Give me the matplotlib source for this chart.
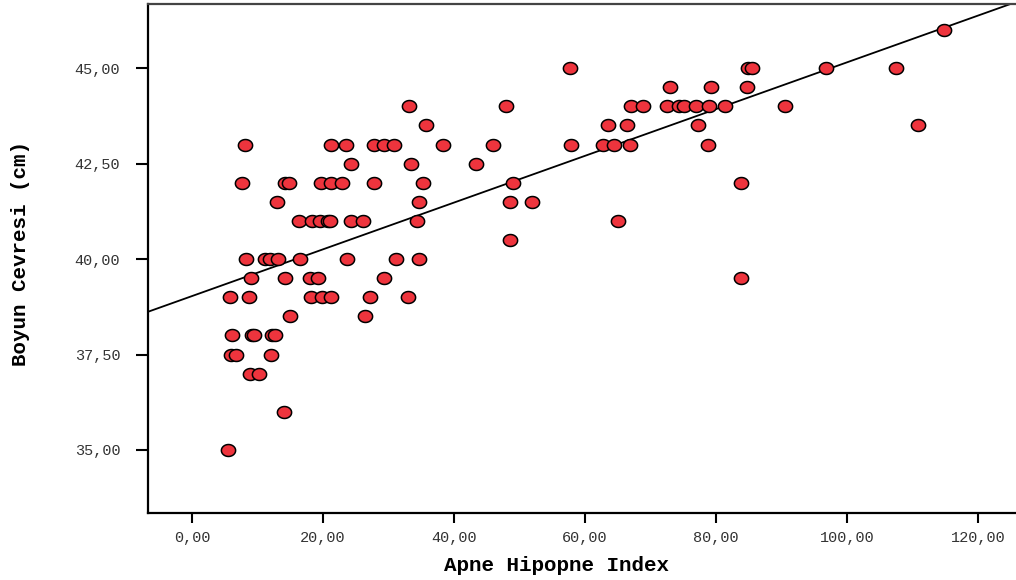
"""Scatter of neck circumference vs AHI with linear fit."""

import matplotlib
matplotlib.use('Agg')
import matplotlib.pyplot as plt
import numpy as np
from matplotlib.path import Path

# ── Data (grouped by neck circumference) ──
ahi = [
    114.8,
    57.7, 84.9, 85.5, 96.8, 107.5,
    73.0, 79.2, 84.7,
    33.1, 47.9, 67.0, 68.9, 72.5, 74.4, 75.1, 76.9, 78.9, 81.4, 90.5,
    35.7, 63.5, 66.4, 77.3, 110.8,
    8.1, 21.2, 23.5, 27.8, 29.3, 30.8, 38.3, 46.0, 57.9, 62.7, 64.4, 66.9, 78.8,
    24.3, 33.4, 43.4,
    7.6, 14.2, 14.8, 19.7, 21.2, 22.9, 27.8, 35.3, 49.0, 83.8,
    13.0, 34.7, 48.5, 51.9,
    16.3, 18.3, 19.5, 20.8, 21.1, 24.3, 26.1, 34.4, 65.0,
    48.5,
    8.2, 11.1, 11.9, 13.1, 16.5, 23.7, 31.1, 34.7,
    9.0, 14.2, 18.0, 19.2, 29.3, 83.8,
    5.8, 8.7, 18.2, 19.8, 21.2, 27.2, 33.0,
    15.0, 26.4,
    6.1, 9.2, 9.5, 12.2, 12.7,
    6.0, 6.7, 12.1,
    8.9, 10.2,
    14.0,
    5.5,
]
neck = (
    [46.0]
    + [45.0] * 5
    + [44.5] * 3
    + [44.0] * 11
    + [43.5] * 5
    + [43.0] * 13
    + [42.5] * 3
    + [42.0] * 10
    + [41.5] * 4
    + [41.0] * 9
    + [40.5] * 1
    + [40.0] * 8
    + [39.5] * 6
    + [39.0] * 7
    + [38.5] * 2
    + [38.0] * 5
    + [37.5] * 3
    + [37.0] * 2
    + [36.0] * 1
    + [35.0] * 1
)

x_ticks = [0, 20, 40, 60, 80, 100, 120]
y_ticks = [35, 37.5, 40, 42.5, 45]
x_lim = (-6.7, 125.8)
y_lim = (33.35, 46.68)

# ── Style ─────────────────────────────────────────────────────
RED = "#ee343d"
MONO = "Liberation Mono"


def fmt(v):
    return f"{v:.2f}".replace(".", ",")


# slightly wide ellipse marker like the SPSS output
t = np.linspace(0, 2 * np.pi, 60)
ellipse = Path(np.column_stack([np.cos(t), 0.84 * np.sin(t)]), closed=True)

fig = plt.figure(figsize=(10.16, 5.80), dpi=100)
ax = fig.add_axes([148 / 1016, 1 - 513 / 580, 868 / 1016, 509 / 580])

ax.scatter(ahi, neck, s=105, marker=ellipse, facecolor=RED,
           edgecolor="black", linewidth=1.1, zorder=3)

# least squares line across the whole plot
slope, icpt = np.polyfit(ahi, neck, 1)
xs = np.array(x_lim)
ax.plot(xs, icpt + slope * xs, color="black", linewidth=1.3, zorder=2)

ax.set_xlim(*x_lim)
ax.set_ylim(*y_lim)
ax.set_xticks(x_ticks)
ax.set_xticklabels([fmt(v) for v in x_ticks], family=MONO, fontsize=11, color="#333333")
ax.set_yticks(y_ticks)
ax.set_yticklabels([fmt(v) for v in y_ticks], family=MONO, fontsize=11, color="#333333")
ax.tick_params(axis="x", direction="out", length=7, width=1.5, pad=6)
ax.tick_params(axis="y", direction="out", length=9, width=1.5, pad=11)

ax.set_xlabel("Apne Hipopne Index", family=MONO, fontsize=15, fontweight="bold", va="center")
ax.set_ylabel("Boyun Cevresi (cm)", family=MONO, fontsize=15, fontweight="bold", va="center")
ax.xaxis.set_label_coords(0.471, -0.104)
ax.yaxis.set_label_coords(-0.147, 0.509)

for side in ["left", "bottom"]:
    ax.spines[side].set_linewidth(1.6)
ax.spines["top"].set_linewidth(1.6)
ax.spines["top"].set_color("#444444")
ax.spines["right"].set_visible(False)

fig.savefig("out.png", dpi=100)
